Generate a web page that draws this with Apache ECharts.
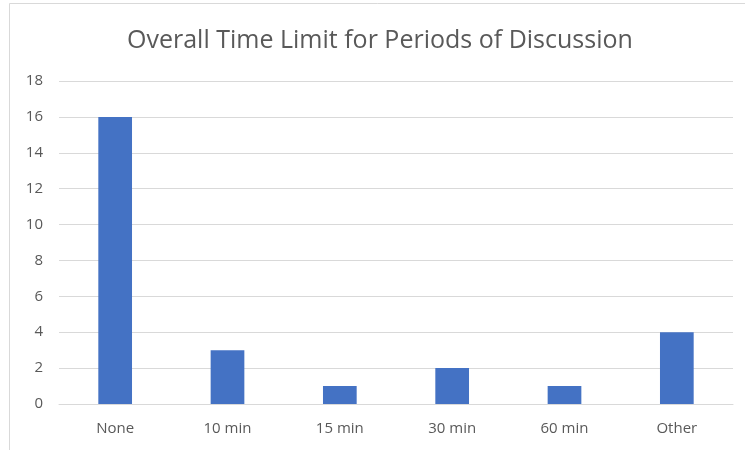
<!DOCTYPE html>
<html>
<head>
<meta charset="utf-8">
<script src="https://cdn.jsdelivr.net/npm/echarts@6/dist/echarts.min.js"></script>
<style>
  html, body { margin: 0; padding: 0; background: #fff; }
  #chart { width: 745px; height: 450px; }
</style>
</head>
<body>
<div id="chart"></div>
<script>
const categories = ['None', '10 min', '15 min', '30 min', '60 min', 'Other'];
const counts = [16, 3, 1, 2, 1, 4];
const titleText = 'Overall Time Limit for Periods of Discussion';

const chart = echarts.init(document.getElementById('chart'));
const font = '"Segoe UI", "Open Sans", "Noto Sans", sans-serif';

chart.setOption({
  animation: false,
  backgroundColor: '#ffffff',
  graphic: [{
    type: 'rect',
    shape: { x: 9.5, y: 3.5, width: 760, height: 460 },
    style: { fill: 'none', stroke: '#d9d9d9', lineWidth: 1 },
    silent: true
  }],
  title: {
    text: titleText,
    left: 122,
    top: 23,
    textStyle: { fontFamily: font, fontSize: 25, fontWeight: 'normal', color: '#595959' }
  },
  grid: { left: 59, right: 12, top: 81, bottom: 46, containLabel: false },
  xAxis: {
    type: 'category',
    data: categories,
    axisLine: { lineStyle: { color: '#d9d9d9', width: 1 } },
    axisTick: { show: false },
    axisLabel: { fontFamily: font, fontSize: 15, color: '#595959', margin: 17 }
  },
  yAxis: {
    type: 'value',
    min: 0,
    max: 18,
    interval: 2,
    axisLine: { show: false },
    axisTick: { show: false },
    splitLine: { lineStyle: { color: '#d9d9d9', width: 1 } },
    axisLabel: { fontFamily: font, fontSize: 15, color: '#595959', margin: 16 }
  },
  series: [{
    type: 'bar',
    data: counts,
    barWidth: '30%',
    itemStyle: { color: '#4472C4' }
  }]
});
</script>
</body>
</html>
